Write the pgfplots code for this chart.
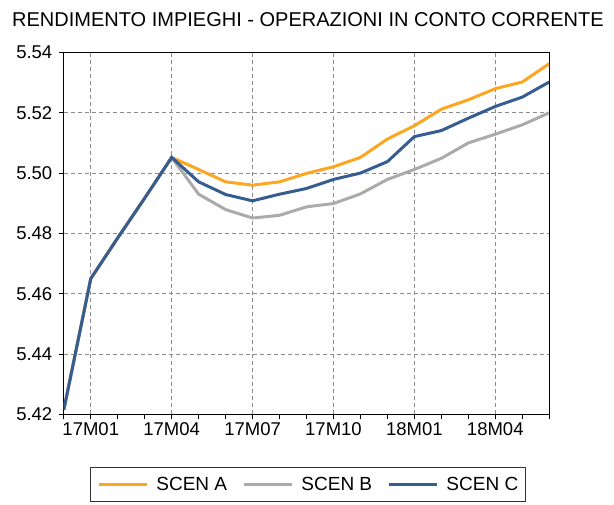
\documentclass[border=0pt]{standalone}
\usepackage{pgfplots}
\usepackage{pgfplotstable}
\pgfplotsset{compat=1.18}
\usepackage{fontspec}
\setmainfont{Liberation Sans}
\definecolor{scA}{RGB}{253,166,34}
\definecolor{scB}{RGB}{171,171,171}
\definecolor{scC}{RGB}{54,93,143}
\definecolor{gridc}{RGB}{140,140,140}
\pgfplotstableread{
i A B C
0 5.4215 5.4215 5.4215
1 5.4650 5.4650 5.4650
2 5.4785 5.4785 5.4785
3 5.4917 5.4917 5.4917
4 5.5052 5.5052 5.5052
5 5.5012 5.4930 5.4971
6 5.4971 5.4879 5.4929
7 5.4960 5.4851 5.4908
8 5.4971 5.4860 5.4930
9 5.4999 5.4888 5.4949
10 5.5021 5.4899 5.4979
11 5.5052 5.4931 5.5000
12 5.5113 5.4979 5.5038
13 5.5157 5.5012 5.5121
14 5.5212 5.5049 5.5141
15 5.5243 5.5100 5.5182
16 5.5280 5.5129 5.5221
17 5.5302 5.5160 5.5252
18 5.5363 5.5200 5.5302
}\datatable
\begin{document}
\begin{tikzpicture}
\useasboundingbox (0,0) rectangle (614bp,505bp);
\node[anchor=base west, inner sep=0pt, font=\fontsize{20bp}{24bp}\selectfont] at (12bp,478.2bp) {RENDIMENTO IMPIEGHI - OPERAZIONI IN CONTO CORRENTE};
\begin{axis}[
  at={(63.8bp,90.7bp)}, anchor=south west,
  scale only axis, width=485.4bp, height=361.8bp,
  xmin=0, xmax=18, ymin=5.42, ymax=5.54,
  xtick={1,4,7,10,13,16},
  xticklabels={17M01,17M04,17M07,17M10,18M01,18M04},
  minor xtick={0,1,...,18},
  ytick={5.42,5.44,5.46,5.48,5.50,5.52,5.54},
  yticklabel style={xshift=-3bp, /pgf/number format/.cd, fixed, fixed zerofill, precision=2},
  /pgf/number format/assume math mode=true,
  tick label style={font=\fontsize{18.5bp}{22bp}\selectfont},
  tick align=outside, xtick pos=bottom, ytick pos=left,
  major tick length=5bp, minor tick length=5bp,
  major tick style={black, line width=0.8bp},
  minor tick style={black, line width=0.8bp},
  xmajorgrids, ymajorgrids,
  grid style={gridc, dash pattern=on 4bp off 3bp, line width=0.8bp},
  axis line style={line width=1.2bp, black},
  legend columns=3,
  legend image code/.code={\draw[#1] (0bp,0bp) -- (48bp,0bp);},
  legend style={at={(0.054,-0.1465)}, anchor=north west, draw=black!80, line width=0.8bp,
    inner xsep=6.7bp, inner ysep=9.5bp, font=\fontsize{19bp}{22bp}\selectfont,
    nodes={inner sep=0pt},
    /tikz/every odd column/.append style={column sep=8.3bp},
    /tikz/every even column/.append style={column sep=15bp}},
]
\addplot[scA, line width=3bp] table[x=i, y=A] {\datatable};
\addlegendentry{SCEN A}
\addplot[scB, line width=3bp] table[x=i, y=B] {\datatable};
\addlegendentry{SCEN B}
\addplot[scC, line width=3bp] table[x=i, y=C] {\datatable};
\addlegendentry{SCEN C}
\end{axis}
\end{tikzpicture}
\end{document}
